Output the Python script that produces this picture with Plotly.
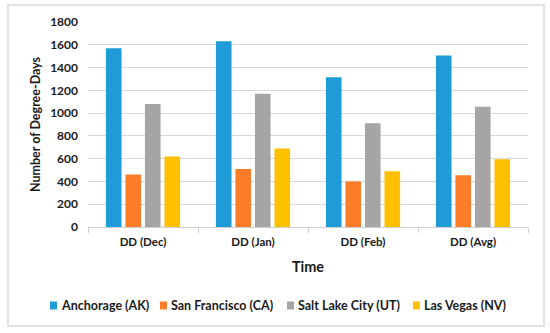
import plotly.graph_objects as go

categories = ["DD (Dec)", "DD (Jan)", "DD (Feb)", "DD (Avg)"]
series_names = ["Anchorage (AK)", "San Francisco (CA)", "Salt Lake City (UT)", "Las Vegas (NV)"]
anchorage = [1570, 1630, 1315, 1505]
san_francisco = [460, 510, 400, 455]
salt_lake_city = [1080, 1170, 910, 1055]
las_vegas = [620, 690, 490, 595]
y_ticks = [0, 200, 400, 600, 800, 1000, 1200, 1400, 1600, 1800]

colors = ["#1F9BD7", "#FB7D2A", "#A5A5A5", "#FFC000"]
values = [anchorage, san_francisco, salt_lake_city, las_vegas]

FONT = "Lato"
TXT = "#1a1a1a"
W, H = 550, 333
L, R, T, B = 88, 22, 22, 106
PW, PH = W - L - R, H - T - B


def px(x):
    return (x - L) / PW


def py(y):
    return (H - B - y) / PH


fig = go.Figure()
for name, vals, c in zip(series_names, values, colors):
    fig.add_trace(go.Bar(x=categories, y=vals, name=name, marker=dict(color=c, line=dict(width=0))))

# legend (drawn manually to match spacing of the reference)
legend_x = [50, 160, 287, 413]
shapes = [dict(type="rect", xref="paper", yref="paper", x0=px(8), x1=px(544), y0=py(326), y1=py(5),
               line=dict(color="#D9D9D9", width=1.5), fillcolor="rgba(0,0,0,0)", layer="below")]
annotations = []
for name, c, lx in zip(series_names, colors, legend_x):
    shapes.append(dict(type="rect", xref="paper", yref="paper", x0=px(lx), x1=px(lx + 7),
                       y0=py(309.5), y1=py(301.5), line=dict(width=0), fillcolor=c))
    annotations.append(dict(text=name, xref="paper", yref="paper", x=px(lx + 9), y=py(305.5),
                            xanchor="left", yanchor="middle", showarrow=False,
                            font=dict(family=FONT, size=12.5, color=TXT, weight="bold")))

fig.update_layout(
    width=W, height=H,
    margin=dict(l=L, r=R, t=T, b=B),
    paper_bgcolor="white", plot_bgcolor="white",
    barmode="group", bargap=0.29, bargroupgap=0.2,
    font=dict(family=FONT, size=12, color=TXT),
    showlegend=False,
    xaxis=dict(
        automargin=False,
        showgrid=False, showline=True, linecolor="#D0D0D0", linewidth=1,
        ticks="outside", tickson="boundaries", ticklen=5, tickcolor="#D0D0D0",
        ticklabelstandoff=4,
        tickfont=dict(family=FONT, size=11.5, color=TXT, weight="bold"),
        title=dict(text="Time", font=dict(family=FONT, size=14.5, color=TXT, weight="bold"), standoff=15),
    ),
    yaxis=dict(
        automargin=False,
        range=[0, 1800], tickvals=y_ticks, showgrid=True, gridcolor="#D9D9D9", gridwidth=1,
        zeroline=False, showline=False, ticks="", ticklabelstandoff=9,
        tickfont=dict(family=FONT, size=12, color=TXT, weight="bold"),
        title=dict(text="Number of Degree-Days", font=dict(family=FONT, size=12.5, color=TXT, weight="bold"), standoff=6),
    ),
    shapes=shapes,
    annotations=annotations,
)

fig.write_html("out.html", config={"displayModeBar": False},
               post_script="document.body.style.margin='0';")
